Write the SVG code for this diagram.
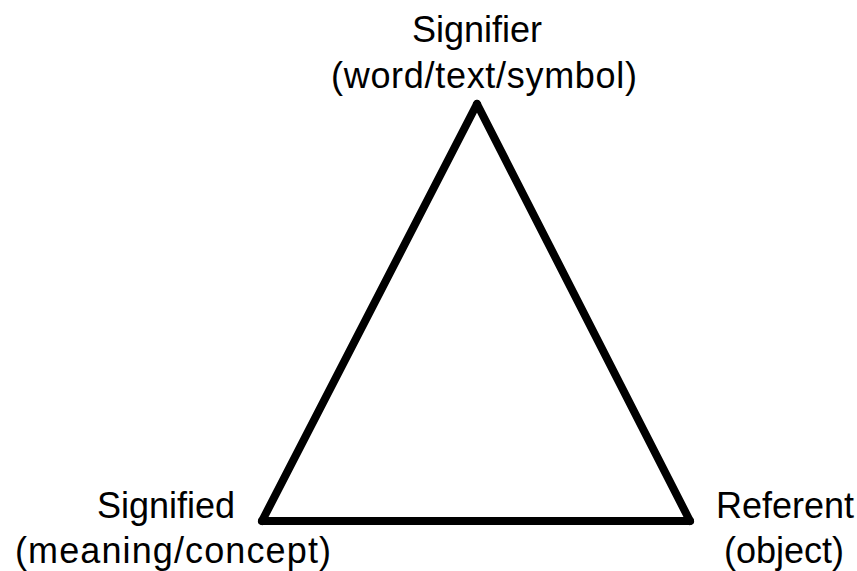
<svg xmlns="http://www.w3.org/2000/svg" width="857" height="571" viewBox="0 0 857 571">
<style>
text{font-family:"Liberation Sans",Arial,sans-serif;font-size:36px;fill:#000;text-anchor:middle}
.edge{fill:none;stroke:#000;stroke-width:8;stroke-linejoin:round;stroke-linecap:round}
</style>
<rect width="857" height="571" fill="#fff"/>
<g id="connectors">
<path class="edge" d="M477,104 L262,521"/>
<path class="edge" d="M262,521 L690,521"/>
<path class="edge" d="M690,521 L477,104"/>
</g>
<g id="signifier">
<text x="477" y="42">Signifier</text>
<text x="484" y="88" textLength="306" lengthAdjust="spacing">(word/text/symbol)</text>
</g>
<g id="signified">
<text x="166" y="518">Signified</text>
<text x="173" y="563" textLength="316" lengthAdjust="spacing">(meaning/concept)</text>
</g>
<g id="referent">
<text x="785" y="518">Referent</text>
<text x="784" y="563">(object)</text>
</g>
</svg>
